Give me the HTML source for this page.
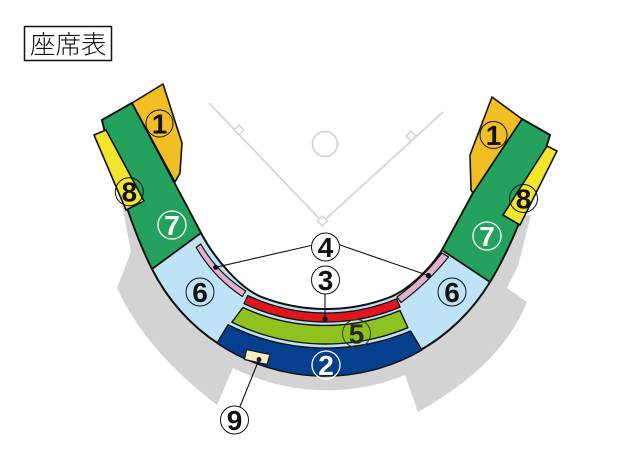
<!DOCTYPE html>
<html><head><meta charset="utf-8"><style>
html,body{margin:0;padding:0;background:#fff;}
svg{display:block;}
</style></head><body>
<svg width="640" height="452" viewBox="0 0 640 452" xmlns="http://www.w3.org/2000/svg">
<rect width="640" height="452" fill="#fff"/>

<!-- title -->
<rect x="24.5" y="26.5" width="87" height="34" fill="#fff" stroke="#111" stroke-width="1.5"/>
<text x="30" y="53.5" font-family="'Liberation Sans','Noto Sans CJK JP',sans-serif" font-size="25.5" font-weight="300" fill="#111">座席表</text>

<!-- field diamond -->
<g stroke="#d6d6d6" stroke-width="1.8" fill="none">
<line x1="209" y1="103" x2="322.5" y2="222"/>
<line x1="443" y1="112" x2="322.5" y2="222"/>
<circle cx="325" cy="144" r="12.5"/>
</g>
<g stroke="#d6d6d6" stroke-width="1.6" fill="#fff">
<rect x="-3.5" y="-3.5" width="7" height="7" transform="translate(239,130) rotate(45)"/>
<rect x="-3.5" y="-3.5" width="7" height="7" transform="translate(411,136) rotate(45)"/>
<rect x="-3.5" y="-3.5" width="7" height="7" transform="translate(322.5,221) rotate(45)"/>
</g>

<!-- gray shadow -->
<path d="M122,205 L131,252 L117,288 Q145,350 217,405 L233,368 A208,208 0 0,0 405,375 L418,412 Q502,365 527,302 L507,288 L518,266 L531,215 L480,220 L470,280 L420,330 L325,355 L230,330 L180,280 L170,220 Z" fill="#d3d3d3"/>

<!-- stands base (light blue) -->
<path d="M102,120 Q125,215 152,269 A193,193 0 0,0 490,282 Q521,231 550,135 L522,119 L473,193 L442,250 C431.6,267 410,289 390,297.2 A179,179 0 0,1 262,297.2 C238.6,288 212.5,255.3 201,233 L132,103 Z" fill="#bee3f6" stroke="#111" stroke-width="2" stroke-linejoin="round"/>

<!-- green arms 7 -->
<path d="M102,120 L132,103 L201,233 L152,269 Q125,215 102,120 Z" fill="#23a15d" stroke="#111" stroke-width="1.8" stroke-linejoin="round"/>
<path d="M522,119 L550,135 Q521,231 490,282 L442,250 L473,193 Z" fill="#23a15d" stroke="#111" stroke-width="1.8" stroke-linejoin="round"/>

<!-- orange 1 -->
<path d="M132,103 L163,84 L182,143 L180,173 L175,182 Z" fill="#f1be23" stroke="#111" stroke-width="1.6" stroke-linejoin="round"/>
<path d="M492,97 L522,119 L473,193 L471,190 L470,155 Z" fill="#f1be23" stroke="#111" stroke-width="1.6" stroke-linejoin="round"/>

<!-- yellow 8 -->
<path d="M94,135 L106,130 L144,201 L126,210 Z" fill="#f3e52b" stroke="#111" stroke-width="1.6" stroke-linejoin="round"/>
<path d="M547,146 L557,151 L520,225 L503,215 Z" fill="#f3e52b" stroke="#111" stroke-width="1.6" stroke-linejoin="round"/>

<!-- blue 2 -->
<path d="M228,324.8 A218,218 0 0,0 410.5,331 L422,350 A193,193 0 0,1 217,343 Z" fill="#073f8f" stroke="#111" stroke-width="1.4" stroke-linejoin="round"/>
<!-- green 5 -->
<path d="M242.9,307.5 A196,196 0 0,0 400,310.5 L407.9,327.7 A214,214 0 0,1 231.9,322.2 Z" fill="#8dc21f" stroke="#111" stroke-width="1.4" stroke-linejoin="round"/>
<!-- red 3 -->
<path d="M247.8,295.5 A183,183 0 0,0 396.6,298.8 L400.1,307.1 A192,192 0 0,1 244,303.6 Z" fill="#e1161c" stroke="#111" stroke-width="1.3" stroke-linejoin="round"/>
<!-- pink 4 -->
<path d="M200.7,244 Q217.4,273 245.7,291 L242.3,296.5 Q213.3,277 196.2,247.5 Z" fill="#e4b1cd" stroke="#111" stroke-width="1.2" stroke-linejoin="round"/>
<path d="M442,253 Q423,278 397,297 L401,302.5 Q427.5,283 448.5,257 Z" fill="#e4b1cd" stroke="#111" stroke-width="1.2" stroke-linejoin="round"/>

<!-- 9 box -->
<path d="M246.5,349.5 L270,354.5 L267,364.5 L244.5,359.5 Z" fill="#f8ecc5" stroke="#111" stroke-width="1.2"/>

<!-- leader lines -->
<g stroke="#111" stroke-width="1.1" fill="none">
<line x1="311" y1="245.5" x2="215.7" y2="267.3"/>
<line x1="340" y1="245" x2="428.3" y2="275.5"/>
<line x1="325" y1="294" x2="325" y2="319"/>
<line x1="259" y1="359.5" x2="240" y2="406.5"/>
</g>
<g fill="#111">
<circle cx="215.7" cy="267.3" r="2.6"/>
<circle cx="428.3" cy="275.5" r="2.6"/>
<circle cx="325" cy="319" r="2.6"/>
<circle cx="259" cy="359.5" r="2.4"/>
</g>

<!-- circled labels -->
<g font-family="'Liberation Sans',sans-serif" font-size="28" font-weight="bold" text-anchor="middle">
<!-- 1 -->
<circle cx="159.5" cy="123.5" r="13.5" fill="none" stroke="#111" stroke-width="1"/>
<text x="159.5" y="133.5" fill="#111">1</text>
<circle cx="493.5" cy="135" r="13.5" fill="none" stroke="#111" stroke-width="1"/>
<text x="493.5" y="145" fill="#111">1</text>
<!-- 8 -->
<circle cx="129.3" cy="191.7" r="14" fill="none" stroke="#111" stroke-width="1"/>
<text x="129.3" y="201.7" fill="#111">8</text>
<circle cx="523.5" cy="198.5" r="14" fill="none" stroke="#111" stroke-width="1"/>
<text x="523.5" y="208.5" fill="#111">8</text>
<!-- 7 -->
<circle cx="172" cy="225" r="14" fill="none" stroke="#fff" stroke-width="1.3"/>
<text x="172" y="235" fill="#fff">7</text>
<circle cx="487" cy="236" r="14" fill="none" stroke="#fff" stroke-width="1.3"/>
<text x="487" y="246" fill="#fff">7</text>
<!-- 6 -->
<circle cx="200" cy="292" r="14" fill="none" stroke="#111" stroke-width="1"/>
<text x="200" y="302" fill="#111">6</text>
<circle cx="452" cy="292" r="14" fill="none" stroke="#111" stroke-width="1"/>
<text x="452" y="302" fill="#111">6</text>
<!-- 4 -->
<circle cx="325.5" cy="247" r="14" fill="#fff" stroke="#111" stroke-width="1"/>
<text x="325.5" y="257" fill="#111">4</text>
<!-- 3 -->
<circle cx="325.5" cy="280" r="14" fill="#fff" stroke="#111" stroke-width="1"/>
<text x="325.5" y="290" fill="#111">3</text>
<!-- 5 -->
<circle cx="356.5" cy="333.5" r="14" fill="none" stroke="#3a3a1a" stroke-width="1"/>
<text x="356.5" y="343.5" fill="#2a2a12">5</text>
<!-- 2 -->
<circle cx="326" cy="365" r="14" fill="none" stroke="#fff" stroke-width="1.3"/>
<text x="326" y="375" fill="#fff">2</text>
<!-- 9 -->
<circle cx="234.5" cy="420" r="14" fill="#fff" stroke="#111" stroke-width="1"/>
<text x="234.5" y="430" fill="#111">9</text>
</g>
</svg>
</body></html>
